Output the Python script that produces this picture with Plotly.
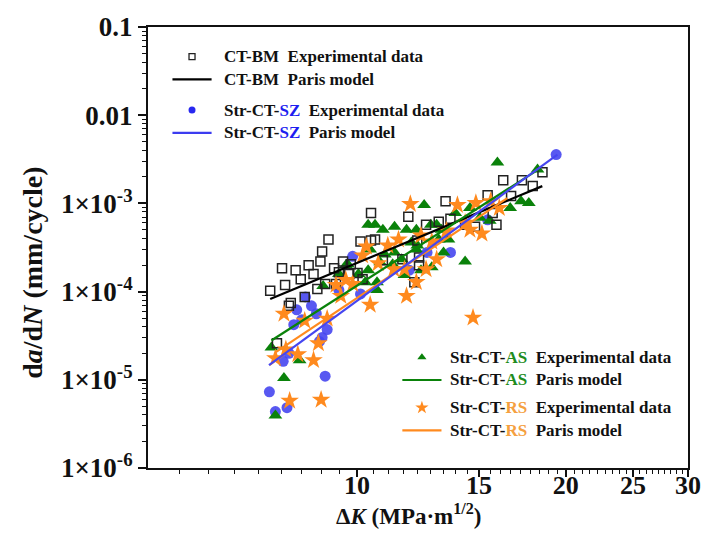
import plotly.graph_objects as go

# ---------------- data ----------------
bm_K = [7.50, 7.88, 7.80, 8.16, 8.30, 8.52, 8.66, 8.86, 8.91, 9.10, 9.00, 8.77, 8.41, 8.03, 7.98,
        7.67, 9.27, 9.55, 9.42, 9.80, 10.02, 9.75, 9.33, 10.12, 10.48, 10.62, 10.48, 11.86, 12.58,
        12.22, 13.42, 13.12, 13.64, 12.29, 12.10, 10.90, 11.63, 12.29, 16.25, 17.29, 18.51, 17.92,
        15.43, 16.68, 15.69, 15.89, 14.80, 10.19, 14.32]
bm_rate = [1.02e-4, 1.19e-4, 1.84e-4, 1.75e-4, 1.38e-4, 1.99e-4, 1.58e-4, 2.20e-4, 2.85e-4, 3.89e-4,
           1.22e-4, 1.07e-4, 8.70e-5, 7.45e-5, 6.90e-5, 2.59e-5, 1.84e-4, 2.20e-4, 1.66e-4, 2.04e-4,
           1.62e-4, 1.58e-4, 1.22e-4, 3.69e-4, 3.79e-4, 3.89e-4, 7.80e-4, 7.04e-4, 5.73e-4, 3.79e-4,
           1.06e-3, 6.18e-4, 6.68e-4, 2.44e-4, 1.28e-4, 2.26e-4, 2.32e-4, 1.99e-4, 1.83e-3, 1.83e-3,
           2.25e-3, 1.57e-3, 1.24e-3, 1.21e-3, 7.80e-4, 5.73e-4, 5.43e-4, 1.38e-4, 5.73e-4]

sz_K = [7.48, 7.63, 7.93, 7.83, 7.98, 8.11, 8.19, 8.33, 8.43, 8.60, 8.74, 8.83, 8.91, 9.06, 9.00,
        9.42, 10.12, 9.86, 12.62, 13.64, 15.43, 19.37, 11.90]
sz_rate = [7.30e-6, 4.36e-6, 4.83e-6, 1.62e-5, 2.00e-5, 4.22e-5, 6.22e-5, 4.81e-5, 8.70e-5, 6.90e-5,
           5.61e-5, 2.72e-5, 3.02e-5, 3.71e-5, 1.10e-5, 1.04e-4, 9.40e-5, 2.51e-4, 2.78e-4, 2.78e-4,
           6.51e-4, 3.58e-3, 1.75e-4]

as_K = [7.53, 7.63, 7.85, 8.27, 8.94, 10.69, 9.70, 10.38, 10.62, 10.90, 11.33, 11.79, 12.18, 12.50,
        12.78, 13.03, 10.45, 10.05, 10.97, 11.33, 11.60, 11.71, 11.98, 12.22, 13.24, 13.86, 14.55,
        13.55, 13.33, 14.32, 12.18, 10.80, 11.26, 12.37, 12.82, 10.69, 10.28, 9.64, 9.42, 10.38,
        13.12, 15.94, 18.21, 17.24, 17.69, 16.63, 15.04, 15.54]
as_rate = [2.33e-5, 3.93e-6, 1.05e-5, 1.67e-5, 1.16e-4, 1.04e-4, 2.04e-4, 5.73e-4, 5.73e-4, 5.03e-4,
           5.43e-4, 5.03e-4, 5.03e-4, 9.59e-4, 5.73e-4, 5.73e-4, 3.00e-4, 1.58e-4, 2.64e-4, 2.78e-4,
           2.32e-4, 1.54e-4, 3.60e-4, 3.33e-4, 5.03e-4, 7.80e-4, 8.88e-4, 3.89e-4, 2.78e-4, 2.20e-4,
           3.00e-4, 2.15e-4, 2.04e-4, 1.75e-4, 1.89e-4, 1.28e-4, 1.28e-4, 1.99e-4, 1.58e-4, 1.75e-4,
           3.89e-4, 2.91e-3, 2.43e-3, 1.06e-3, 1.01e-3, 8.88e-4, 6.86e-4, 6.35e-4]

rs_K = [7.63, 7.85, 7.90, 8.00, 8.22, 8.41, 8.66, 8.80, 8.88, 9.06, 9.48, 10.45, 11.79, 9.33, 9.64,
        9.86, 10.19, 10.32, 10.73, 11.08, 11.48, 11.94, 11.30, 12.18, 12.58, 13.03, 13.96, 12.37,
        12.82, 13.46, 14.32, 14.55, 11.71, 14.84, 15.59, 16.04, 15.14, 14.70]
rs_rate = [1.75e-5, 5.61e-5, 2.21e-5, 5.78e-6, 1.95e-5, 4.68e-5, 1.67e-5, 2.59e-5, 5.94e-6, 4.93e-5,
           8.93e-5, 7.08e-5, 8.93e-5, 1.19e-4, 1.35e-4, 1.22e-4, 2.57e-4, 3.24e-4, 2.09e-4, 3.33e-4,
           3.89e-4, 9.84e-4, 1.79e-4, 1.28e-4, 1.79e-4, 2.32e-4, 9.59e-4, 4.31e-4, 3.69e-4, 4.91e-4,
           6.03e-4, 5.03e-4, 1.79e-4, 1.01e-3, 1.06e-3, 8.88e-4, 4.54e-4, 5.06e-5]

# Paris model fits (end points of the straight log-log lines)
bm_fit_K, bm_fit_rate = [7.50, 18.5], [8.26e-5, 1.57e-3]
sz_fit_K, sz_fit_rate = [7.47, 19.45], [1.47e-5, 3.58e-3]
as_fit_K, as_fit_rate = [7.53, 18.27], [2.79e-5, 2.43e-3]
rs_fit_K, rs_fit_rate = [7.63, 16.47], [2.05e-5, 1.15e-3]

y_tickvals = [1e-6, 1e-5, 1e-4, 1e-3, 1e-2, 1e-1]
y_ticktext = ["1×10<sup>-6</sup>", "1×10<sup>-5</sup>", "1×10<sup>-4</sup>",
              "1×10<sup>-3</sup>", "0.01", "0.1"]
x_tickvals = [10, 15, 20, 25, 30]
x_ticktext = ["10", "15", "20", "25", "30"]

# ---------------- style ----------------
FONT = "Liberation Serif"
BLUE = "#4646F0"
GREEN = "#0A820A"
ORANGE = "#FF8A1E"

W, H = 713, 541
L, R, T, B = 148, 700, 22, 468

fig = go.Figure()

fig.add_trace(go.Scatter(x=sz_K, y=sz_rate, mode="markers", showlegend=False,
                         marker=dict(symbol="circle", size=11, color=BLUE, opacity=0.9)))
fig.add_trace(go.Scatter(x=as_K, y=as_rate, mode="markers", showlegend=False,
                         marker=dict(symbol="triangle-up", size=12, color=GREEN)))
fig.add_trace(go.Scatter(x=bm_K, y=bm_rate, mode="markers", showlegend=False,
                         marker=dict(symbol="square-open", size=9, color="#222",
                                     line=dict(width=1.5, color="#222"))))
fig.add_trace(go.Scatter(x=rs_K, y=rs_rate, mode="markers", showlegend=False,
                         marker=dict(symbol="star", size=14, color=ORANGE, line=dict(width=0))))

for k, r, c in [(bm_fit_K, bm_fit_rate, "black"), (as_fit_K, as_fit_rate, GREEN),
                (rs_fit_K, rs_fit_rate, ORANGE), (sz_fit_K, sz_fit_rate, BLUE)]:
    fig.add_trace(go.Scatter(x=k, y=r, mode="lines", showlegend=False,
                             line=dict(color=c, width=2.2)))

# ---------------- manual legend ----------------
def px(xp):
    return (xp - L) / (R - L)

def py(yp):
    return 1 - (yp - T) / (B - T)

legend_rows = [
    (193, 52, "marker", "#222", ("square-open", 6), "CT-BM\u00a0\u00a0Experimental data", 224),
    (193, 75, "line", "black", None, "CT-BM\u00a0\u00a0Paris model", 224),
    (193, 106, "marker", "#2828F0", ("circle", 7), "Str-CT-<span style='color:#1E1EF0'>SZ</span>\u00a0\u00a0Experimental data", 224),
    (193, 129, "line", "#3C3CF0", None, "Str-CT-<span style='color:#1E1EF0'>SZ</span>\u00a0\u00a0Paris model", 224),
    (428, 356, "marker", GREEN, ("triangle-up", 8), "Str-CT-<span style='color:#1E8C1E'>AS</span>\u00a0\u00a0Experimental data", 455),
    (428, 379, "line", GREEN, None, "Str-CT-<span style='color:#1E8C1E'>AS</span>\u00a0\u00a0Paris model", 455),
    (428, 407, "marker", ORANGE, ("star", 10), "Str-CT-<span style='color:#F5A040'>RS</span>\u00a0\u00a0Experimental data", 455),
    (428, 430, "line", ORANGE, None, "Str-CT-<span style='color:#F5A040'>RS</span>\u00a0\u00a0Paris model", 455),
]

for mx, ry, kind, col, sym, text, tx in legend_rows:
    if kind == "marker":
        fig.add_trace(go.Scatter(x=[px(mx)], y=[py(ry)], xaxis="x2", yaxis="y2", mode="markers",
                                 showlegend=False, hoverinfo="skip",
                                 marker=dict(symbol=sym[0], size=sym[1], color=col,
                                             line=dict(width=1.3, color=col) if "open" in sym[0] else dict(width=0))))
    else:
        fig.add_shape(type="line", xref="paper", yref="paper", x0=px(mx - 20), x1=px(mx + 20),
                      y0=py(ry), y1=py(ry), line=dict(color=col, width=2.2))
    fig.add_annotation(x=px(tx), y=py(ry), xref="paper", yref="paper", text=text, showarrow=False,
                       xanchor="left", yanchor="middle",
                       font=dict(family=FONT, size=17, color="#111", weight="bold"))

# axis titles
fig.add_annotation(x=px(415), y=py(515), xref="paper", yref="paper",
                   text="Δ<i>K</i> (MPa·m<sup>1/2</sup>)", showarrow=False,
                   xanchor="center", yanchor="middle",
                   font=dict(family=FONT, size=23, color="#111", weight="bold"))
fig.add_annotation(x=px(30), y=py(271), xref="paper", yref="paper",
                   text="d<i>a</i>/d<i>N</i> (mm/cycle)", showarrow=False, textangle=-90,
                   xanchor="center", yanchor="middle",
                   font=dict(family=FONT, size=28, color="#111", weight="bold"))

# minor ticks
x_minor = []
for a, b in [(5, 10), (10, 15), (15, 20), (20, 25), (25, 30)]:
    for i in range(1, 9):
        x_minor.append(a + (b - a) * i / 9)
y_minor = []
for e in range(-6, -1):
    for m in range(2, 10):
        y_minor.append(m * 10 ** e)

fig.update_layout(
    width=W, height=H,
    margin=dict(l=L, r=W - R, t=T, b=H - B, pad=0),
    plot_bgcolor="white", paper_bgcolor="white",
    font=dict(family=FONT, color="#111"),
    xaxis=dict(type="log", range=[0.69897, 1.47712], showgrid=False, zeroline=False,
               showline=True, linewidth=2, linecolor="#111", mirror=True,
               tickmode="array", tickvals=x_tickvals, ticktext=x_ticktext,
               ticks="outside", ticklen=7, tickwidth=1.5, tickcolor="#111",
               ticklabelstandoff=-14,
               tickfont=dict(family=FONT, size=26, color="#111", weight="bold"),
               minor=dict(tickmode="array", tickvals=x_minor, ticks="outside", ticklen=4,
                          tickwidth=1.2, tickcolor="#111")),
    yaxis=dict(type="log", range=[-6, -1], showgrid=False, zeroline=False,
               showline=True, linewidth=2, linecolor="#111", mirror=True,
               tickmode="array", tickvals=y_tickvals, ticktext=y_ticktext,
               ticks="outside", ticklen=8, tickwidth=1.5, tickcolor="#111",
               tickfont=dict(family=FONT, size=27, color="#111", weight="bold"),
               minor=dict(tickmode="array", tickvals=y_minor, ticks="outside", ticklen=4,
                          tickwidth=1.2, tickcolor="#111")),
    xaxis2=dict(range=[0, 1], overlaying="x", visible=False, fixedrange=True),
    yaxis2=dict(range=[0, 1], overlaying="y", visible=False, fixedrange=True),
    showlegend=False,
)

fig.write_html("out.html")
